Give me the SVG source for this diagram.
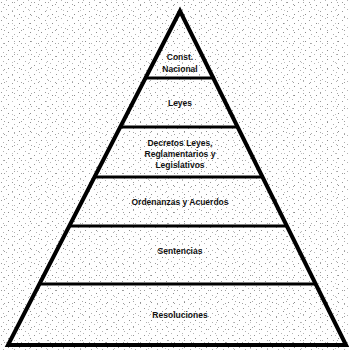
<svg xmlns="http://www.w3.org/2000/svg" width="349" height="350" viewBox="0 0 349 350">
  <style>
    .lbl { font-family: "Liberation Sans", Arial, sans-serif; font-size: 8.5px; font-weight: bold; fill: #111; text-anchor: middle; }
    .sep { stroke: #000; stroke-width: 3; fill: none; }
    .edge { stroke: #000; stroke-width: 4; fill: none; stroke-linejoin: miter; }
  </style>
  <defs>
    <pattern id="dots" width="11" height="9" patternUnits="userSpaceOnUse">
      <rect x="1" y="2" width="1" height="1" fill="#9a9a9a"/>
      <rect x="6" y="0" width="1" height="1" fill="#b5b5b5"/>
      <rect x="8" y="5" width="1" height="1" fill="#8c8c8c"/>
      <rect x="3" y="7" width="1" height="1" fill="#b0b0b0"/>
    </pattern>
    <pattern id="dots2" width="17" height="13" patternUnits="userSpaceOnUse">
      <rect x="4" y="4" width="1" height="1" fill="#a0a0a0"/>
      <rect x="12" y="10" width="1" height="1" fill="#c0c0c0"/>
      <rect x="14" y="2" width="1" height="1" fill="#a8a8a8"/>
    </pattern>
  </defs>
  <rect x="0" y="0" width="349" height="350" fill="#fff"/>
  <rect x="0" y="0" width="349" height="350" fill="url(#dots)"/>
  <rect x="0" y="0" width="349" height="350" fill="url(#dots2)"/>

  <g id="connectors">
    <polygon class="edge" points="180,11 8,345 346,345"/>
    <line class="sep" x1="144" y1="78" x2="215" y2="78"/>
    <line class="sep" x1="119" y1="127" x2="239" y2="127"/>
    <line class="sep" x1="93" y1="177" x2="264" y2="177"/>
    <line class="sep" x1="68" y1="226" x2="288" y2="226"/>
    <line class="sep" x1="38" y1="284" x2="317" y2="284"/>
  </g>

  <g id="tier-constitucion">
    <text class="lbl" x="180" y="60">Const.</text>
    <text class="lbl" x="180" y="72">Nacional</text>
  </g>
  <g id="tier-leyes">
    <text class="lbl" x="180" y="106">Leyes</text>
  </g>
  <g id="tier-decretos">
    <text class="lbl" x="180" y="146">Decretos Leyes,</text>
    <text class="lbl" x="180" y="157">Reglamentarios y</text>
    <text class="lbl" x="180" y="168">Legislativos</text>
  </g>
  <g id="tier-ordenanzas">
    <text class="lbl" x="180" y="205">Ordenanzas y Acuerdos</text>
  </g>
  <g id="tier-sentencias">
    <text class="lbl" x="180" y="254">Sentencias</text>
  </g>
  <g id="tier-resoluciones">
    <text class="lbl" x="180" y="318">Resoluciones</text>
  </g>
</svg>
